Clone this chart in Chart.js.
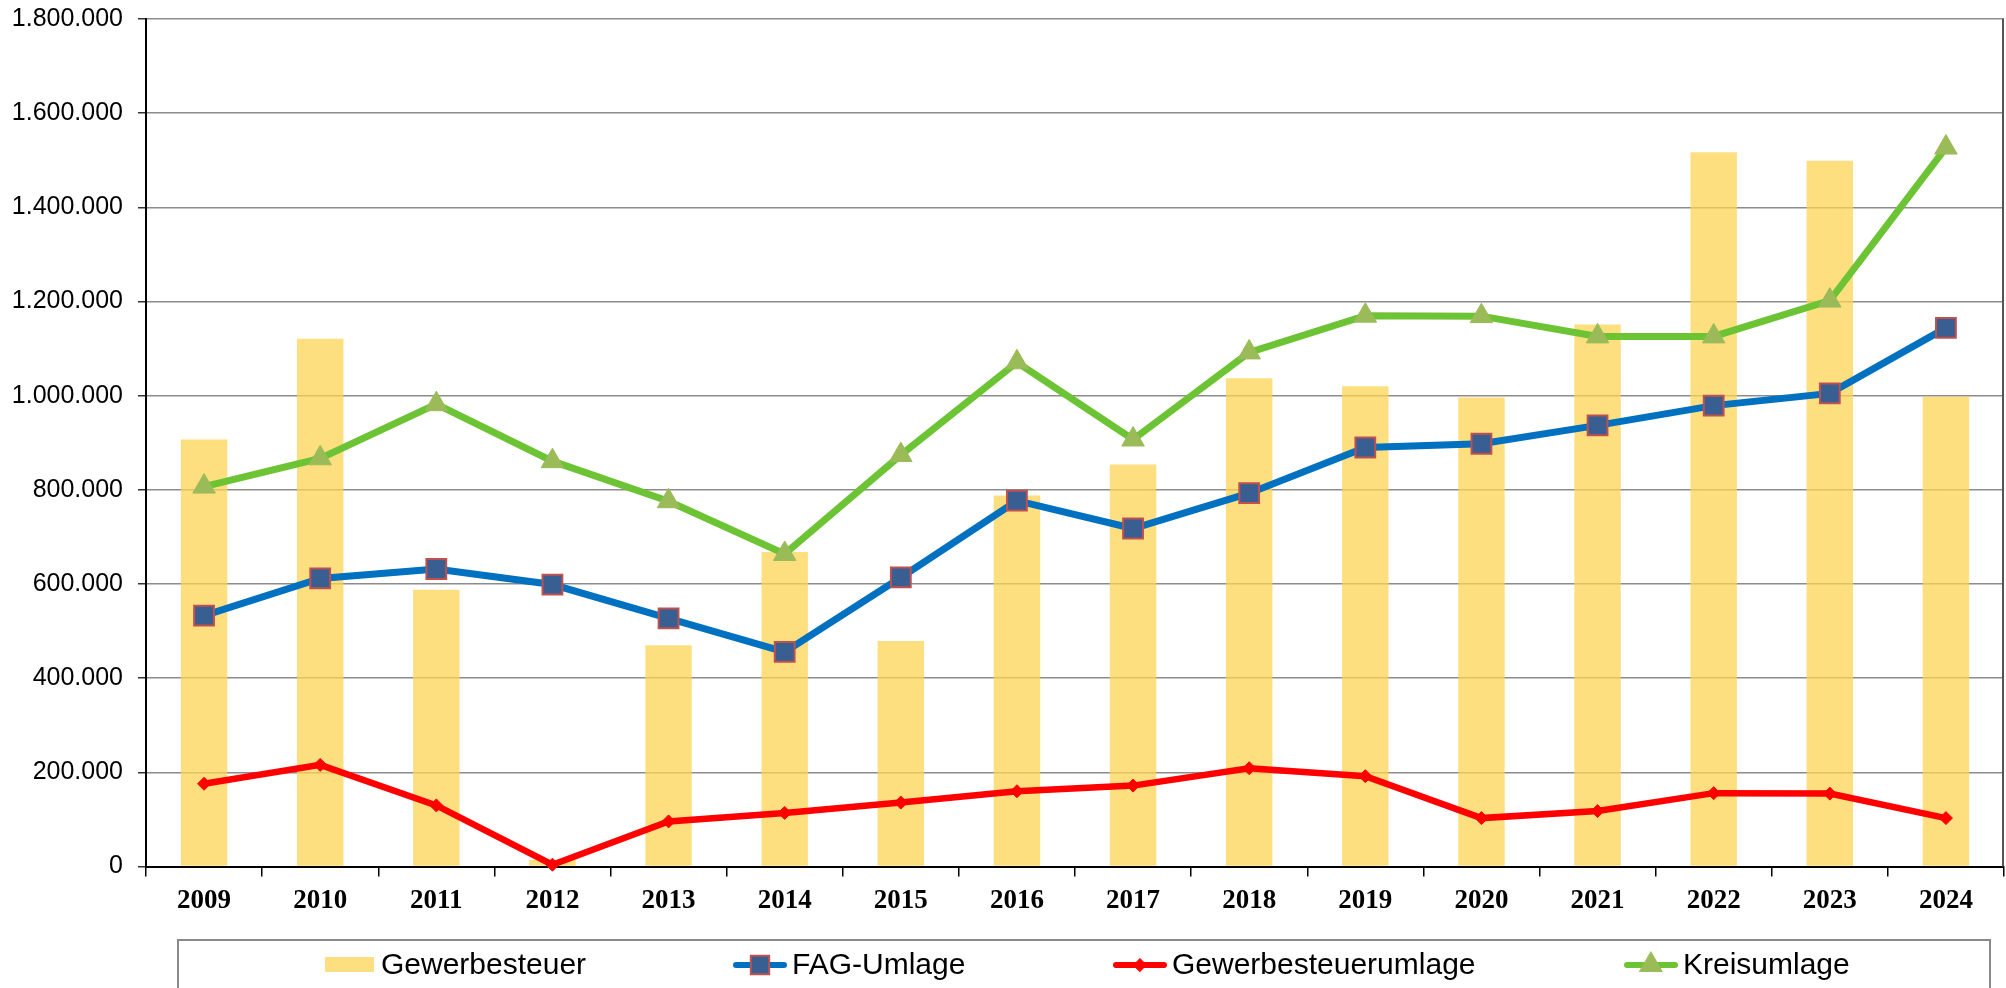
<!DOCTYPE html>
<html>
<head>
<meta charset="utf-8">
<script src="https://cdn.jsdelivr.net/npm/chart.js@4/dist/chart.umd.min.js"></script>
<style>
  html, body { margin: 0; padding: 0; background: #fff; overflow: hidden; }
  #wrap { width: 2006px; height: 988px; position: relative; }
</style>
</head>
<body>
<div id="wrap"><canvas id="c" width="2006" height="988"></canvas></div>
<script>
const years = ['2009','2010','2011','2012','2013','2014','2015','2016','2017','2018','2019','2020','2021','2022','2023','2024'];
const gewerbesteuer = [907000, 1121000, 588000, 14000, 470000, 668000, 479000, 788000, 854000, 1037000, 1020000, 996000, 1151000, 1517000, 1499000, 998000];
const fagUmlage = [533000, 612000, 632000, 599000, 527000, 456000, 614000, 777000, 718000, 793000, 890000, 898000, 937000, 979000, 1005000, 1144000];
const gewerbesteuerumlage = [176000, 216000, 130000, 4000, 96000, 114000, 136000, 160000, 172000, 209000, 192000, 103000, 118000, 156000, 155000, 103000];
const kreisumlage = [807000, 867000, 982000, 861000, 776000, 664000, 874000, 1071000, 907000, 1092000, 1170000, 1169000, 1126000, 1126000, 1202000, 1527000];
const yTickValues = [0, 200000, 400000, 600000, 800000, 1000000, 1200000, 1400000, 1600000, 1800000];
const seriesNames = ['Gewerbesteuer', 'FAG-Umlage', 'Gewerbesteuerumlage', 'Kreisumlage'];

function fmtDE(v) {
  return String(Math.round(v)).replace(/\B(?=(\d{3})+(?!\d))/g, '.');
}

const legendPlugin = {
  id: 'boxLegend',
  afterDraw(chart) {
    const ctx = chart.ctx;
    ctx.save();
    ctx.strokeStyle = '#8a8a8a';
    ctx.lineWidth = 2;
    ctx.strokeRect(178, 940, 1812, 60);
    const xs = [325, 733, 1113, 1624];
    const textY = 974;
    ctx.font = '30px "Liberation Sans", Arial, sans-serif';
    ctx.textBaseline = 'alphabetic';
    chart.data.datasets.forEach((ds, i) => {
      const x = xs[i];
      if (ds.type === 'bar') {
        ctx.fillStyle = ds.backgroundColor;
        ctx.fillRect(x, 957, 49, 15);
        ctx.fillStyle = '#000';
        ctx.fillText(ds.label, x + 56, textY);
      } else {
        const cy = 965;
        ctx.strokeStyle = ds.borderColor;
        ctx.lineWidth = 6;
        ctx.lineCap = 'round';
        ctx.beginPath();
        ctx.moveTo(x + 3, cy);
        ctx.lineTo(x + 51, cy);
        ctx.stroke();
        const opts = { pointStyle: ds.pointStyle, radius: Math.min(ds.pointRadius, 13), borderWidth: ds.pointBorderWidth, rotation: 0 };
        ctx.fillStyle = ds.pointBackgroundColor;
        ctx.strokeStyle = ds.pointBorderColor;
        ctx.lineWidth = ds.pointBorderWidth;
        Chart.helpers.drawPoint(ctx, opts, x + 27, cy);
        ctx.fillStyle = '#000';
        ctx.fillText(ds.label, x + 59, textY);
      }
    });
    ctx.restore();
  }
};

const frameRight = {
  id: 'frameRight',
  afterDatasetsDraw(chart) {
    const a = chart.chartArea, ctx = chart.ctx;
    ctx.save();
    ctx.strokeStyle = '#555';
    ctx.lineWidth = 2;
    ctx.beginPath();
    ctx.moveTo(a.right - 1, a.top);
    ctx.lineTo(a.right - 1, a.bottom);
    ctx.stroke();
    ctx.restore();
  }
};

new Chart(document.getElementById('c'), {
  data: {
    labels: years,
    datasets: [
      { type: 'bar', label: seriesNames[0], data: gewerbesteuer, backgroundColor: 'rgba(254,212,86,0.75)', borderWidth: 0, barPercentage: 0.4, categoryPercentage: 1.0, order: 10 },
      { type: 'line', label: seriesNames[1], data: fagUmlage, borderColor: '#0070c0', borderWidth: 7, pointStyle: 'rect', pointRadius: 14, pointBackgroundColor: '#385e92', pointBorderColor: '#c0504d', pointBorderWidth: 2, tension: 0, clip: false, order: 2 },
      { type: 'line', label: seriesNames[2], data: gewerbesteuerumlage, borderColor: '#ff0000', borderWidth: 6.5, pointStyle: 'rectRot', pointRadius: 6.5, pointBackgroundColor: '#ff0000', pointBorderColor: '#ff0000', pointBorderWidth: 1, tension: 0, clip: false, order: 1 },
      { type: 'line', label: seriesNames[3], data: kreisumlage, borderColor: '#6cc334', borderWidth: 7, pointStyle: 'triangle', pointRadius: 13, pointBackgroundColor: '#9bbb59', pointBorderColor: '#9bbb59', pointBorderWidth: 1, tension: 0, clip: false, order: 3 }
    ]
  },
  options: {
    responsive: false,
    animation: false,
    devicePixelRatio: 1,
    layout: { autoPadding: false, padding: { left: 0, right: 2, top: 19, bottom: 63 } },
    plugins: { legend: { display: false }, tooltip: { enabled: false } },
    scales: {
      x: {
        offset: true,
        afterFit(scale) { scale.paddingLeft = 0; scale.paddingRight = 0; },
        grid: { offset: true, drawOnChartArea: false, drawTicks: true, tickLength: 10, color: '#000', lineWidth: 1.5 },
        border: { color: '#000', width: 2 },
        ticks: { color: '#000', padding: 8, font: { family: '"Liberation Serif", "DejaVu Serif", serif', size: 27, weight: 'bold' }, maxRotation: 0, autoSkip: false }
      },
      y: {
        min: 0,
        max: 1800000,
        afterBuildTicks(scale) { scale.ticks = yTickValues.map(v => ({ value: v })); },
        afterFit(scale) { scale.width = 146; scale.paddingTop = 0; scale.paddingBottom = 0; },
        grid: { color: '#8c8c8c', lineWidth: 1.5, drawTicks: true, tickLength: 8, tickColor: '#333' },
        border: { color: '#000', width: 2 },
        ticks: { color: '#000', padding: 15, font: { family: '"Liberation Sans", Arial, sans-serif', size: 25 }, callback: v => fmtDE(v) }
      }
    }
  },
  plugins: [legendPlugin, frameRight]
});
</script>
</body>
</html>
